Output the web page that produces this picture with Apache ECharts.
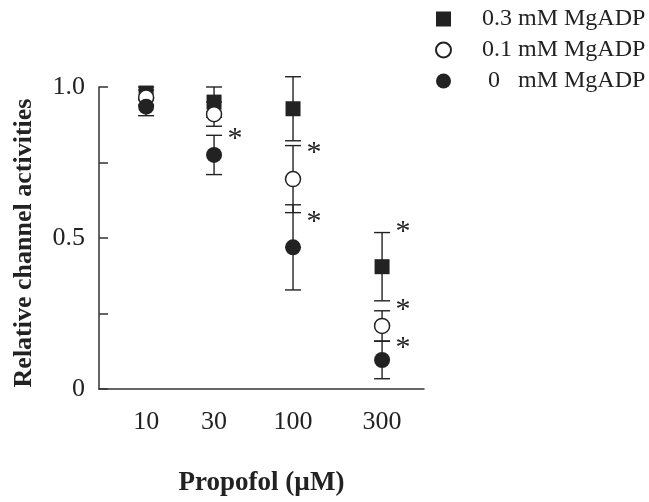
<!DOCTYPE html>
<html lang="en">

<head>
    <meta charset="UTF-8">
    <title>Propofol MgADP</title>
    <script src="https://cdn.jsdelivr.net/npm/echarts@6/dist/echarts.min.js"></script>
    <style>
        body { margin: 0; background: #fff; }
    </style>
</head>

<body>
    <div id="chart" style="width: 649px;height: 502px;"></div>
    <script>
        var myChart = echarts.init(document.getElementById("chart"));

        // propofol doses and where each sits along the x axis (0-10 scale)
        var doses = ["10", "30", "100", "300"];
        var xPos = [1.45, 3.54, 5.97, 8.71];
        var names = ["0.3 mM MgADP", "0.1 mM MgADP", " 0   mM MgADP"];

        // relative channel activities, mean and error
        var mg03 = [0.98, 0.95, 0.928, 0.405];
        var mg03Err = [0.02, 0.05, 0.106, 0.113];
        var mg01 = [0.965, 0.91, 0.695, 0.209];
        var mg01Err = [0.025, 0.04, 0.111, 0.05];
        var mg0 = [0.935, 0.775, 0.469, 0.096];
        var mg0Err = [0.03, 0.065, 0.141, 0.062];

        // significance marks: dose index and height
        var starDose = [1, 2, 2, 3, 3, 3];
        var starY = [0.849, 0.803, 0.577, 0.544, 0.285, 0.157];

        var ink = "#222";
        var serif = "Liberation Serif";

        function points(vals) {
            return vals.map(function (v, i) { return [xPos[i], v]; });
        }

        function errorBars(name, vals, errs) {
            return {
                type: "custom",
                name: name,
                z: 1,
                clip: false,
                data: vals.map(function (v, i) { return [xPos[i], v - errs[i], v + errs[i]]; }),
                renderItem: function (params, api) {
                    var lo = api.coord([api.value(0), api.value(1)]);
                    var hi = api.coord([api.value(0), api.value(2)]);
                    var w = 8;
                    var st = { stroke: ink, lineWidth: 1.4 };
                    return {
                        type: "group",
                        children: [
                            { type: "line", shape: { x1: lo[0], y1: lo[1], x2: hi[0], y2: hi[1] }, style: st },
                            { type: "line", shape: { x1: lo[0] - w, y1: lo[1], x2: lo[0] + w, y2: lo[1] }, style: st },
                            { type: "line", shape: { x1: hi[0] - w, y1: hi[1], x2: hi[0] + w, y2: hi[1] }, style: st }
                        ]
                    };
                }
            };
        }

        var options = {
            animation: false,
            backgroundColor: "#fff",
            grid: { left: 99, right: 225, top: 87, bottom: 110 },
            legend: {
                orient: "vertical",
                left: 430,
                top: 2,
                itemWidth: 15,
                itemHeight: 15,
                itemGap: 7,
                data: names,
                textStyle: { fontFamily: serif, fontSize: 24, color: ink, padding: [0, 0, 0, 26] }
            },
            xAxis: {
                type: "value",
                min: 0,
                max: 10,
                axisLine: { lineStyle: { color: "#333", width: 1.5 } },
                axisTick: { show: false },
                splitLine: { show: false },
                axisLabel: {
                    customValues: xPos,
                    margin: 20,
                    fontFamily: serif,
                    fontSize: 26,
                    color: ink,
                    formatter: function (v) {
                        var i = xPos.indexOf(v);
                        return i < 0 ? "" : doses[i];
                    }
                },
                name: "Propofol (\u00b5M)",
                nameLocation: "middle",
                nameGap: 81,
                nameTextStyle: { fontFamily: serif, fontSize: 27, fontWeight: "bold", color: ink }
            },
            yAxis: {
                type: "value",
                min: 0,
                max: 1,
                interval: 0.25,
                axisLine: { show: true, lineStyle: { color: "#333", width: 1.5 } },
                axisTick: { show: true, inside: true, length: 9, lineStyle: { color: "#333", width: 1.5 } },
                splitLine: { show: false },
                axisLabel: {
                    margin: 14,
                    fontFamily: serif,
                    fontSize: 26,
                    color: ink,
                    formatter: function (v) {
                        if (v === 0) return "0";
                        if (v === 0.5) return "0.5";
                        if (v === 1) return "1.0";
                        return "";
                    }
                },
                name: "Relative channel activities",
                nameLocation: "middle",
                nameRotate: 90,
                nameGap: 62,
                nameTextStyle: { fontFamily: serif, fontSize: 26, fontWeight: "bold", color: ink, padding: [0, 10, 0, 0] }
            },
            series: [
                errorBars("err03", mg03, mg03Err),
                errorBars("err01", mg01, mg01Err),
                errorBars("err0", mg0, mg0Err),
                {
                    type: "scatter",
                    name: names[0],
                    symbol: "rect",
                    symbolSize: 15,
                    z: 2,
                    clip: false,
                    itemStyle: { color: ink, opacity: 1 },
                    data: points(mg03)
                },
                {
                    type: "scatter",
                    name: names[1],
                    symbol: "circle",
                    symbolSize: 15,
                    z: 3,
                    clip: false,
                    itemStyle: { color: "#fff", borderColor: ink, borderWidth: 1.5, opacity: 1 },
                    data: points(mg01)
                },
                {
                    type: "scatter",
                    name: names[2],
                    symbol: "circle",
                    symbolSize: 16,
                    z: 4,
                    clip: false,
                    itemStyle: { color: ink, opacity: 1 },
                    data: points(mg0)
                },
                {
                    type: "custom",
                    name: "stars",
                    z: 5,
                    clip: false,
                    data: starDose.map(function (d, i) { return [xPos[d], starY[i]]; }),
                    renderItem: function (params, api) {
                        var p = api.coord([api.value(0), api.value(1)]);
                        return {
                            type: "text",
                            x: p[0] + 21,
                            y: p[1] + 7,
                            style: {
                                text: "*",
                                fontFamily: serif,
                                fontSize: 30,
                                fill: ink,
                                align: "center",
                                verticalAlign: "middle"
                            }
                        };
                    }
                }
            ]
        };
        myChart.setOption(options);
    </script>
</body>

</html>
